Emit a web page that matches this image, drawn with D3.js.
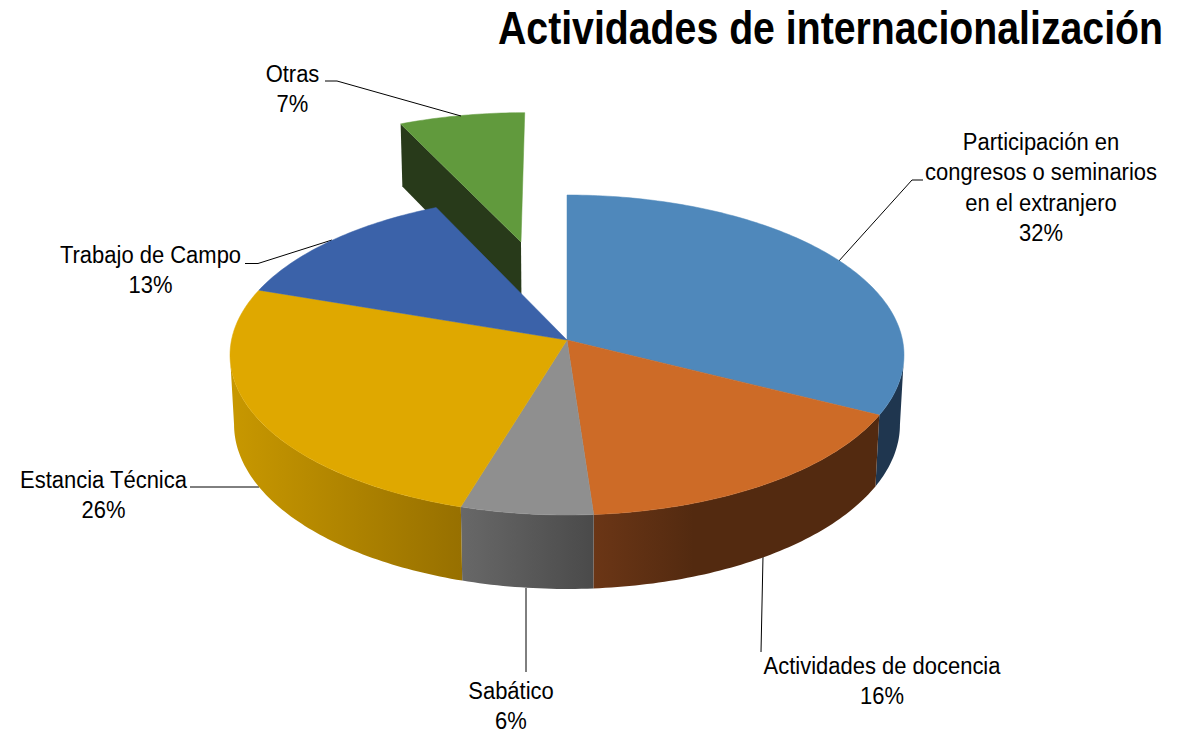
<!DOCTYPE html>
<html><head><meta charset="utf-8">
<script src="https://cdn.jsdelivr.net/npm/d3@7/dist/d3.min.js"></script>
<style>html,body{margin:0;padding:0;background:#fff}svg{display:block}
text{font-family:"Liberation Sans",Arial,sans-serif;fill:#000}</style>
</head><body><svg id="c" width="1178" height="731"></svg>
<script>
const categories = ["Participación en congresos o seminarios en el extranjero","Actividades de docencia","Sabático","Estancia Técnica","Trabajo de Campo","Otras"];
const values = [32.49,16.36,5.8,25.6,12.8,6.95];
const percentLabels = ["32%","16%","6%","26%","13%","7%"];
const labelLines = [["Participación en","congresos o seminarios","en el extranjero"],["Actividades de docencia"],["Sabático"],["Estancia Técnica"],["Trabajo de Campo"],["Otras"]];
const explode = [0,0,0,0,0,0.672];
const topColors = ["#4f88bb","#cd6b27","#8f8f8f","#dfa800","#3b62a9","#619a3d"];
const wallStops = [["#1f364f","#1f364f"],["#6b3616","#532a10"],["#686868","#4a4a4a"],["#c89800","#977000"],["#2a4678","#2a4678"],["#283a1a","#283a1a"]];
const labelPos = [[1041,150],[882,674],[511,699],[103.5,488],[150.5,263],[292.5,82]];
const leaders = [
 [[923,180],[912,180],[838,262]],
 [[763,556],[761,652]],
 [[526,588],[526,672]],
 [[190,487],[259,487]],
 [[245,263.5],[258,263.5],[332,240]],
 [[325,81],[337,81],[461,116]]
];
const cx=567, cy=340, R=335.5, S=158.6, K=0.09375, H=70, M=0.012;

const svg=d3.select("#c");
const defs=svg.append("defs");
const arcs=d3.pie().sort(null).startAngle(0).endAngle(2*Math.PI)(values);

// perspective projection of a pie-plane point; z=0 is the top face, z=1 the base
function project(u,v,z){
  const den=1-K*v+M*z;
  return [cx+R*u/den, cy+(S*v+H*z)/den];
}
function rim(a,e,z,i){
  const mid=(arcs[i].startAngle+arcs[i].endAngle)/2;
  return project(Math.sin(a)+e*Math.sin(mid), -Math.cos(a)-e*Math.cos(mid), z);
}
function tip(e,z,i){
  const mid=(arcs[i].startAngle+arcs[i].endAngle)/2;
  return project(e*Math.sin(mid), -e*Math.cos(mid), z);
}
const line=d3.line();
function sweep(i,z,a0,a1){
  const n=Math.max(8,Math.ceil((a1-a0)*60));
  return d3.range(n+1).map(k=>rim(a0+(a1-a0)*k/n,explode[i],z,i));
}
function drawTop(i){
  svg.append("path").attr("d",line([tip(explode[i],0,i),...sweep(i,0,arcs[i].startAngle,arcs[i].endAngle)])+"Z")
    .attr("fill",topColors[i]).attr("stroke",topColors[i]).attr("stroke-width",0.5);
}
// the outer wall shows only between the two silhouette angles of the ellipse
const silA=Math.acos(-K), silB=2*Math.PI-silA;
function drawWall(i){
  const a0=Math.max(arcs[i].startAngle,silA), a1=Math.min(arcs[i].endAngle,silB);
  if(a1<=a0) return;
  const top=sweep(i,0,a0,a1), base=sweep(i,1,a0,a1).reverse();
  const xs=top.map(d=>d[0]);
  const id="w"+i;
  const g=defs.append("linearGradient").attr("id",id).attr("gradientUnits","userSpaceOnUse")
    .attr("x1",d3.min(xs)).attr("x2",i===1?d3.min(xs)+100:d3.max(xs)).attr("y1",0).attr("y2",0);
  g.append("stop").attr("offset",0).attr("stop-color",wallStops[i][0]);
  g.append("stop").attr("offset",1).attr("stop-color",wallStops[i][1]);
  svg.append("path").attr("d",line([...top,...base])+"Z").attr("fill",`url(#${id})`);
}

// exploded slice first: its cut face runs behind the main pie
const last=values.length-1;
const leftTop=rim(arcs[last].startAngle,explode[last],0,last), leftBase=rim(arcs[last].startAngle,explode[last],1,last);
svg.append("path").attr("d",line([tip(explode[last],0,last),leftTop,leftBase,tip(explode[last],1,last)])+"Z")
  .attr("fill",wallStops[last][0]);
drawTop(last);

// leaders sit beneath the pie
const leaderLine=d3.line();
leaders.forEach(p=>svg.append("path").attr("d",leaderLine(p)).attr("fill","none").attr("stroke","#000").attr("stroke-width",1));

d3.range(last).forEach(drawWall);
d3.range(last).forEach(drawTop);

categories.forEach((c,i)=>{
  const lines=[...labelLines[i],percentLabels[i]];
  const t=svg.append("text").attr("text-anchor","middle").attr("font-size",24.5)
    .attr("transform",`translate(${labelPos[i][0]},${labelPos[i][1]}) scale(0.897,1)`);
  lines.forEach((l,k)=>t.append("tspan").attr("x",0).attr("y",k*30.5).text(l));
});

const title=svg.append("text").attr("font-size",46).attr("font-weight","bold")
  .text("Actividades de internacionalización");
const natural=title.node().getComputedTextLength();
title.attr("transform",`translate(498,44) scale(${665/natural},1)`);
</script></body></html>
